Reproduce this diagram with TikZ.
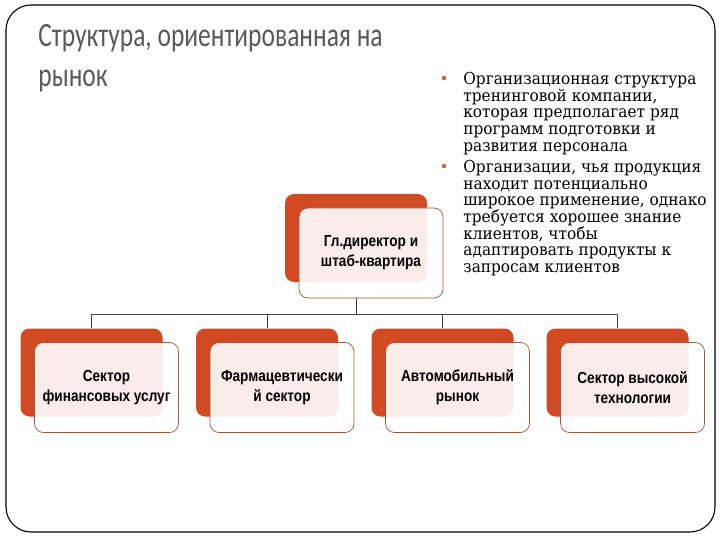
\documentclass[tikz,border=0pt]{standalone}
\usepackage{fontspec}
\setmainfont[FakeStretch=0.93]{DejaVu Serif}
\newfontfamily\titlefont[FakeStretch=0.75]{Carlito}
\newfontfamily\boxfont[FakeStretch=0.85]{Liberation Sans}
\usetikzlibrary{positioning}
\definecolor{corange}{HTML}{D24A24}
\definecolor{cbrown}{HTML}{A0583A}
\definecolor{cgrey}{HTML}{595959}
\definecolor{cdot}{HTML}{C8643C}
\tikzset{
  every picture/.style={line width=0.8pt},
  frame/.style={draw=black, line width=1.1pt, rounded corners=25pt},
  title/.style={anchor=base west, inner sep=0pt, text=cgrey, font=\titlefont\fontsize{34}{40}\selectfont},
  backbox/.style={fill=corange, rounded corners=9pt, minimum width=142pt, minimum height=88pt, inner sep=0pt},
  frontbox/.style={draw=cbrown, line width=0.7pt, fill=white, fill opacity=0.9, text opacity=1,
    rounded corners=9pt, minimum width=144pt, minimum height=90pt, inner sep=2pt, align=center,
    text=black, font=\boxfont\bfseries\fontsize{16}{20}\selectfont},
  link/.style={draw=black!75, line width=0.6pt},
  bullet/.style={circle, fill=cdot, inner sep=0pt, minimum size=4.5pt},
  bullettext/.style={anchor=north west, inner sep=0pt, align=left, text=black,
    font=\fontsize{16.5}{16.6}\selectfont},
}

\begin{document}
\begin{tikzpicture}[x=1pt, y=-1pt]
  \useasboundingbox (0,0) rectangle (720,540);
  \draw[frame] (6,5) rectangle (715,532);

  \node[title] (title1) at (38,47) {Структура, ориентированная на};
  \node[title] (title2) at (38,87) {рынок};

  % list on the right
  \node[bullet] (dot1) at (444,78) {};
  \node[bullettext] (list1) at (463,72) {Организационная структура\\тренинговой компании,\\которая предполагает ряд\\программ подготовки и\\развития персонала};
  \node[bullet] (dot2) at (444,166) {};
  \node[bullettext] (list2) at (463,160) {Организации, чья продукция\\находит потенциально\\широкое применение, однако\\требуется хорошее знание\\клиентов, чтобы\\адаптировать продукты к\\запросам клиентов};

  % head office
  \node[backbox] (btop) at (356,238) {};
  \node[frontbox, xshift=15pt, yshift=-15pt] (ftop) at (btop) {Гл.директор и\\штаб-квартира};

  % sectors
  \node[backbox] (b1) at (91.5,372.5) {};
  \node[backbox] (b2) at (267,372.5) {};
  \node[backbox] (b3) at (442.5,372.5) {};
  \node[backbox] (b4) at (617.5,372.5) {};
  \node[frontbox, xshift=15pt, yshift=-15pt] (f1) at (b1) {Сектор\\финансовых услуг};
  \node[frontbox, xshift=15pt, yshift=-15pt] (f2) at (b2) {Фармацевтически\\й сектор};
  \node[frontbox, xshift=15pt, yshift=-15pt] (f3) at (b3) {Автомобильный\\рынок};
  \node[frontbox, xshift=15pt, yshift=-15pt] (f4) at (b4) {Сектор высокой\\технологии};

  % connectors
  \coordinate (bus) at (356,314);
  \draw[link] (btop |- ftop.south) -- (bus);
  \draw[link] (b1.north |- bus) -- (b4.north |- bus);
  \foreach \b in {b1,b2,b3,b4}
    \draw[link] (\b.north |- bus) -- (\b.north);
\end{tikzpicture}
\end{document}
